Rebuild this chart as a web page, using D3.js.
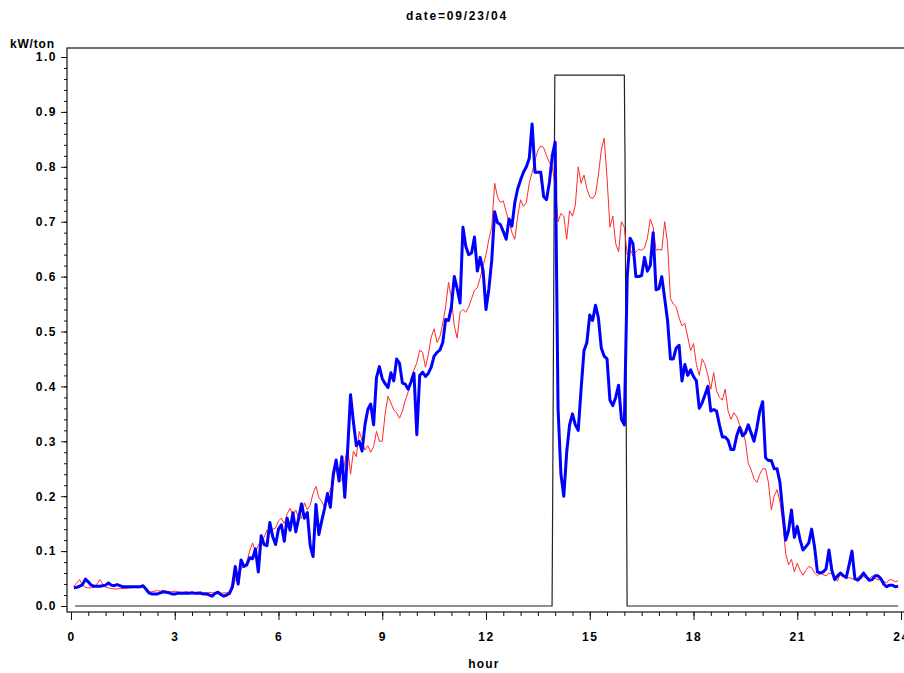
<!DOCTYPE html>
<html>
<head>
<meta charset="utf-8">
<script src="https://cdn.jsdelivr.net/npm/d3@7"></script>
<style>
  body { margin: 0; background: #fff; }
  text { font-family: "Liberation Sans", Arial, sans-serif; font-weight: bold; fill: #000; }
</style>
</head>
<body>
<svg id="chart"></svg>
<script>
// 5-minute readings, hour = i/12 for i = 1..287
var hours = d3.range(1, 288).map(i => i / 12)

// blue series (thick)
var blueValues = [
  0.033,0.034,0.036,0.039,0.049,0.044,0.038,0.036,0.036,0.036,
  0.037,0.038,0.042,0.038,0.037,0.039,0.037,0.035,0.035,0.035,
  0.035,0.035,0.035,0.035,0.037,0.031,0.024,0.022,0.022,0.022,
  0.024,0.026,0.025,0.024,0.022,0.022,0.023,0.023,0.023,0.023,
  0.023,0.024,0.023,0.023,0.023,0.022,0.022,0.020,0.018,0.023,
  0.025,0.021,0.018,0.020,0.023,0.035,0.072,0.040,0.084,0.072,
  0.075,0.088,0.086,0.104,0.062,0.128,0.112,0.110,0.152,0.126,
  0.112,0.140,0.148,0.118,0.160,0.138,0.170,0.135,0.160,0.186,
  0.160,0.170,0.110,0.090,0.185,0.130,0.155,0.178,0.205,0.180,
  0.240,0.266,0.228,0.272,0.198,0.285,0.385,0.335,0.292,0.300,
  0.282,0.330,0.358,0.368,0.330,0.416,0.436,0.414,0.405,0.398,
  0.425,0.410,0.450,0.442,0.406,0.404,0.395,0.408,0.424,0.312,
  0.420,0.426,0.418,0.424,0.435,0.455,0.462,0.466,0.480,0.522,
  0.520,0.545,0.600,0.578,0.552,0.690,0.655,0.640,0.643,0.672,
  0.610,0.635,0.610,0.540,0.578,0.630,0.718,0.698,0.695,0.682,
  0.668,0.705,0.692,0.735,0.760,0.776,0.790,0.800,0.815,0.878,
  0.790,0.790,0.790,0.746,0.740,0.772,0.820,0.845,0.360,0.240,
  0.200,0.280,0.330,0.350,0.330,0.320,0.395,0.465,0.480,0.530,
  0.520,0.548,0.525,0.470,0.455,0.450,0.375,0.365,0.380,0.402,
  0.340,0.330,0.600,0.670,0.660,0.600,0.600,0.602,0.635,0.610,
  0.620,0.680,0.576,0.578,0.600,0.560,0.520,0.450,0.450,0.470,
  0.475,0.410,0.440,0.420,0.430,0.418,0.410,0.360,0.370,0.385,
  0.400,0.355,0.358,0.355,0.330,0.308,0.308,0.302,0.285,0.285,
  0.310,0.325,0.310,0.315,0.330,0.315,0.300,0.325,0.355,0.372,
  0.270,0.265,0.265,0.250,0.250,0.225,0.170,0.120,0.138,0.175,
  0.125,0.145,0.120,0.102,0.108,0.115,0.140,0.108,0.062,0.060,
  0.062,0.068,0.102,0.065,0.048,0.055,0.060,0.055,0.052,0.075,
  0.100,0.050,0.047,0.052,0.060,0.053,0.047,0.048,0.055,0.055,
  0.050,0.040,0.035,0.038,0.038,0.035,0.036
]

// red series (thin)
var redValues = [
  0.036,0.042,0.048,0.038,0.034,0.033,0.033,0.034,0.040,0.048,
  0.040,0.034,0.033,0.032,0.031,0.031,0.032,0.032,0.032,0.033,
  0.033,0.034,0.033,0.034,0.034,0.030,0.026,0.026,0.027,0.028,
  0.027,0.028,0.027,0.026,0.026,0.027,0.026,0.025,0.025,0.026,
  0.025,0.025,0.024,0.025,0.026,0.024,0.024,0.025,0.024,0.024,
  0.024,0.023,0.024,0.024,0.026,0.030,0.047,0.055,0.068,0.072,
  0.080,0.100,0.115,0.098,0.110,0.120,0.125,0.138,0.132,0.140,
  0.142,0.155,0.160,0.150,0.168,0.178,0.165,0.175,0.160,0.160,
  0.188,0.175,0.184,0.205,0.218,0.198,0.190,0.180,0.200,0.212,
  0.226,0.258,0.225,0.230,0.262,0.290,0.240,0.282,0.272,0.318,
  0.302,0.284,0.292,0.280,0.290,0.318,0.300,0.300,0.350,0.382,
  0.370,0.357,0.352,0.342,0.355,0.375,0.390,0.415,0.430,0.443,
  0.466,0.462,0.435,0.458,0.490,0.505,0.480,0.490,0.515,0.545,
  0.590,0.560,0.510,0.488,0.535,0.540,0.535,0.545,0.560,0.575,
  0.580,0.598,0.620,0.640,0.668,0.690,0.770,0.745,0.735,0.738,
  0.718,0.700,0.680,0.668,0.710,0.740,0.728,0.735,0.770,0.790,
  0.812,0.830,0.838,0.835,0.820,0.808,0.800,0.765,0.700,0.715,
  0.710,0.668,0.720,0.710,0.730,0.800,0.770,0.785,0.760,0.745,
  0.742,0.750,0.785,0.830,0.852,0.780,0.690,0.710,0.660,0.645,
  0.700,0.690,0.640,0.650,0.638,0.645,0.650,0.648,0.652,0.670,
  0.705,0.690,0.648,0.650,0.648,0.700,0.660,0.560,0.550,0.545,
  0.525,0.510,0.515,0.490,0.465,0.478,0.440,0.420,0.450,0.440,
  0.420,0.395,0.425,0.392,0.380,0.375,0.395,0.355,0.340,0.352,
  0.345,0.330,0.320,0.300,0.260,0.248,0.232,0.225,0.240,0.250,
  0.250,0.225,0.175,0.200,0.212,0.190,0.150,0.095,0.075,0.085,
  0.062,0.078,0.065,0.056,0.065,0.072,0.070,0.060,0.055,0.060,
  0.057,0.055,0.060,0.058,0.055,0.045,0.060,0.055,0.050,0.052,
  0.050,0.047,0.052,0.057,0.053,0.052,0.050,0.055,0.050,0.048,
  0.047,0.045,0.042,0.048,0.047,0.044,0.046
]

// black step series
var stepHours = [0.12, 13.91, 13.93, 13.99, 16.0, 16.02, 16.08, 23.92]
var stepValues = [0, 0, 0.215, 0.967, 0.967, 0.81, 0, 0]

// axis ticks
var xTicks = [0, 3, 6, 9, 12, 15, 18, 21, 24]
var yTicks = [0, 0.1, 0.2, 0.3, 0.4, 0.5, 0.6, 0.7, 0.8, 0.9, 1.0]

//svg dimensions
var dimensions = {
    width: 904,
    height: 673,
    frame: {left: 67, top: 48, right: 906, bottom: 612}
}

var svg = d3.select("#chart")
            .attr("width", dimensions.width)
            .attr("height", dimensions.height)

//scales
var xScale = d3.scaleLinear().domain([0, 24]).range([71, 901])
var yScale = d3.scaleLinear().domain([0, 1]).range([606, 57])

//title
svg.append("text")
   .attr("x", 457)
   .attr("y", 20)
   .attr("text-anchor", "middle")
   .attr("font-size", 12)
   .attr("letter-spacing", 1.8)
   .text("date=09/23/04")

//frame
svg.append("rect")
   .attr("x", dimensions.frame.left)
   .attr("y", dimensions.frame.top)
   .attr("width", dimensions.frame.right - dimensions.frame.left)
   .attr("height", dimensions.frame.bottom - dimensions.frame.top)
   .attr("fill", "none")
   .attr("stroke", "#111")
   .attr("stroke-width", 1.2)

//x axis: minor then major ticks
var xMinor = d3.axisBottom(xScale)
               .tickValues(d3.range(0, 24.01, 0.5))
               .tickSize(4)
               .tickFormat("")
var xMajor = d3.axisBottom(xScale)
               .tickValues(xTicks)
               .tickSize(8)
               .tickPadding(12)
               .tickFormat(d3.format("d"))

svg.append("g")
   .attr("transform", `translate(0,${dimensions.frame.bottom})`)
   .call(xMinor)
   .call(g => g.select(".domain").remove())
svg.append("g")
   .attr("class", "x-axis")
   .attr("transform", `translate(0,${dimensions.frame.bottom})`)
   .call(xMajor)
   .call(g => g.select(".domain").remove())

//y axis
var yMinor = d3.axisLeft(yScale)
               .tickValues(d3.range(0, 1.001, 0.02))
               .tickSize(3)
               .tickFormat("")
var yMajor = d3.axisLeft(yScale)
               .tickValues(yTicks)
               .tickSize(6)
               .tickPadding(4)
               .tickFormat(d3.format(".1f"))

svg.append("g")
   .attr("transform", `translate(${dimensions.frame.left},0)`)
   .call(yMinor)
   .call(g => g.select(".domain").remove())
svg.append("g")
   .attr("class", "y-axis")
   .attr("transform", `translate(${dimensions.frame.left},0)`)
   .call(yMajor)
   .call(g => g.select(".domain").remove())

svg.selectAll(".x-axis text, .y-axis text")
   .attr("font-size", 12)
   .attr("letter-spacing", 1.5)
   .attr("font-family", "Liberation Sans, Arial, sans-serif")
   .attr("font-weight", "bold")
svg.selectAll(".tick line").attr("stroke", "#111")

//axis labels
svg.append("text")
   .attr("x", 10)
   .attr("y", 48)
   .attr("font-size", 12)
   .attr("letter-spacing", 0.8)
   .text("kW/ton")
svg.append("text")
   .attr("x", 484)
   .attr("y", 668)
   .attr("text-anchor", "middle")
   .attr("font-size", 12)
   .attr("letter-spacing", 1.2)
   .text("hour")

//lines
var line = d3.line()
             .x(d => xScale(d[0]))
             .y(d => yScale(d[1]))

svg.append("path")
   .attr("d", line(stepHours.map((h, i) => [h, stepValues[i]])))
   .attr("fill", "none")
   .attr("stroke", "#222")
   .attr("stroke-width", 1.2)

svg.append("path")
   .attr("d", line(hours.map((h, i) => [h, redValues[i]])))
   .attr("fill", "none")
   .attr("stroke", "#ff2a2a")
   .attr("stroke-width", 1)

svg.append("path")
   .attr("d", line(hours.map((h, i) => [h, blueValues[i]])))
   .attr("fill", "none")
   .attr("stroke", "#0000ff")
   .attr("stroke-width", 3)
   .attr("stroke-linejoin", "round")
</script>
</body>
</html>
